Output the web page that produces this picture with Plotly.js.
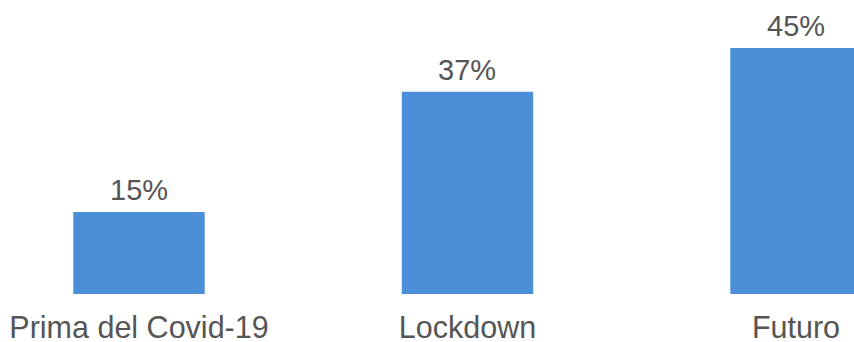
<!DOCTYPE html>
<html><head><meta charset="utf-8">
<script src="https://cdn.plot.ly/plotly-3.0.1.min.js"></script>
<style>html,body{margin:0;padding:0;background:#fff;}#chart{width:854px;height:342px;}</style>
</head><body><div id="chart"></div>
<script>
const categories = ["Prima del Covid-19", "Lockdown", "Futuro"];
const values = [15, 37, 45];
const valueLabels = ["15%", "37%", "45%"];

const trace = {
  type: 'bar', x: categories, y: values, width: 0.4,
  marker: {color: '#4a8fd8'}, hoverinfo: 'none'
};
const annotations = categories.map((c, i) => ({
  x: c, y: values[i], xref: 'x', yref: 'y', text: valueLabels[i],
  showarrow: false, yanchor: 'bottom', yshift: 4,
  font: {family: 'Liberation Sans, Arial, sans-serif', size: 29, color: '#555555'}
}));
const layout = {
  width: 854, height: 342,
  margin: {l: 0, r: 0, t: 0, b: 48, pad: 0},
  paper_bgcolor: '#ffffff', plot_bgcolor: '#ffffff',
  showlegend: false,
  xaxis: {range: [-0.4231, 2.1766], showgrid: false, zeroline: false, showline: false,
          ticks: '', ticklabelstandoff: 12,
          tickfont: {family: 'Liberation Sans, Arial, sans-serif', size: 30.5, color: '#555555'},
          fixedrange: true},
  yaxis: {range: [0, 53.78], visible: false, fixedrange: true},
  annotations: annotations
};
Plotly.newPlot('chart', [trace], layout, {displayModeBar: false, staticPlot: true});
</script></body></html>
